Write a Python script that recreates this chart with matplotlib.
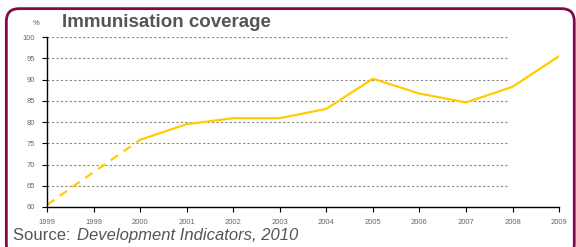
import matplotlib.pyplot as plt
from matplotlib.patches import FancyBboxPatch

plt.rcParams['font.family'] = ['Liberation Sans', 'DejaVu Sans']

# data
years = ['1999', '1999', '2000', '2001', '2002', '2003', '2004',
         '2005', '2006', '2007', '2008', '2009']
est_pos = [0, 1, 2]
est_vals = [60.5, 68.2, 75.8]
obs_pos = [2, 3, 4, 5, 6, 7, 8, 9, 10, 11]
obs_vals = [75.8, 79.5, 80.9, 80.9, 83.1, 90.2, 86.7, 84.6, 88.3, 95.5]
yticks = [60, 65, 70, 75, 80, 85, 90, 95, 100]

fig = plt.figure(figsize=(5.76, 2.47), dpi=100)
ax = fig.add_axes([0.0816, 0.162, 0.889, 0.688])

# frame round the whole chart
frame = FancyBboxPatch((0.011, -0.04), 0.986, 1.005,
                       boxstyle='round,pad=0,rounding_size=0.022',
                       transform=fig.transFigure, fill=False,
                       edgecolor='#7b0c45', linewidth=2, clip_on=False,
                       mutation_aspect=576 / 247)
fig.patches.append(frame)

# dotted gridlines stop short of the last category
ax.hlines(yticks[1:], 0, 9.9, colors='#888888', linestyles=(0, (2, 2)),
          linewidth=0.8)

ax.plot(est_pos, est_vals, color='#ffcc00', linewidth=1.6, dashes=(4, 3))
ax.plot(obs_pos, obs_vals, color='#ffcc00', linewidth=1.6)

ax.set_xlim(0, 11)
ax.set_ylim(60, 100)
ax.set_xticks(range(len(years)))
ax.set_xticklabels(years)
ax.set_yticks(yticks)
for s in ['top', 'right']:
    ax.spines[s].set_visible(False)
for s in ['left', 'bottom']:
    ax.spines[s].set_linewidth(1.0)
ax.tick_params(axis='both', labelsize=5.5, labelcolor='#666666',
               length=3.5, width=0.8, pad=5)
ax.set_facecolor('none')

fig.text(0.108, 0.91, 'Immunisation coverage', fontsize=13.5,
         fontweight='bold', color='#555555', va='center')
fig.text(0.062, 0.905, '%', fontsize=5.5, color='#555555',
         va='center', ha='center')
fig.text(0.022, 0.045, 'Source: ', fontsize=12, color='#555555',
         va='center')
fig.text(0.134, 0.045, 'Development Indicators, 2010', fontsize=12,
         color='#555555', va='center', style='italic')

fig.savefig('out.png', dpi=100)
